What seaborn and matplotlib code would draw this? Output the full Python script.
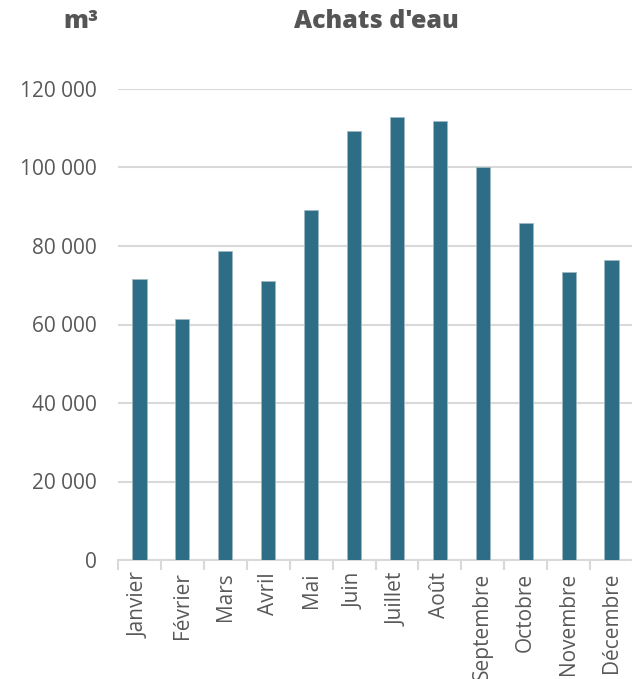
import matplotlib
matplotlib.use("Agg")
import matplotlib.pyplot as plt
import seaborn as sns
import pandas as pd
import numpy as np
from matplotlib.ticker import FuncFormatter, FixedLocator

months = ["Janvier", "Février", "Mars", "Avril", "Mai", "Juin", "Juillet",
          "Août", "Septembre", "Octobre", "Novembre", "Décembre"]
values = [71600, 61400, 78600, 71100, 89200, 109300, 112900, 111800,
          100100, 85900, 73500, 76500]
yticks = [0, 20000, 40000, 60000, 80000, 100000, 120000]

sns.set_theme(style="white")
plt.rcParams['font.family'] = ['Open Sans', 'DejaVu Sans']

df = pd.DataFrame({"mois": months, "m3": values})

fig = plt.figure(figsize=(6.32, 6.79), dpi=100)
ax = fig.add_axes([118/632, 1-560/679, (633-118)/632, (560-89)/679])

sns.barplot(data=df, x="mois", y="m3", color="#2d6e86", width=0.33,
            saturation=1, ax=ax, edgecolor="#9fb9c4", linewidth=0.6)

ax.set_ylim(0, 120000)
ax.set_xlim(-0.5, 11.5)
ax.set_yticks(yticks)
ax.yaxis.set_major_formatter(FuncFormatter(lambda v, p: f"{int(v):,}".replace(",", " ")))
ax.grid(axis="y", color="#d9d9d9", linewidth=1.5)
ax.set_axisbelow(True)
for s in ["top", "right", "left"]:
    ax.spines[s].set_visible(False)
ax.spines["bottom"].set_color("#d9d9d9")
ax.spines["bottom"].set_linewidth(1.5)
ax.spines["bottom"].set_zorder(0.5)

ax.set_xlabel("")
ax.set_ylabel("")
ax.tick_params(axis="y", length=0, pad=15, labelsize=15, labelcolor="#595959")
ax.tick_params(axis="x", which="major", length=0, pad=9, labelsize=15,
               labelcolor="#595959", labelrotation=90)
ax.xaxis.set_minor_locator(FixedLocator(np.arange(-0.5, 12, 1)))
ax.tick_params(axis="x", which="minor", length=7, width=1.5, color="#d9d9d9",
               bottom=True)

fig.text(81/632, 1-22/679, "m³", ha="center", va="center", fontsize=18,
         fontweight="heavy", color="#555555")
fig.text(376/632, 1-22/679, "Achats d'eau", ha="center", va="center",
         fontsize=18, fontweight="heavy", color="#555555")

fig.savefig("out.png", dpi=100)
